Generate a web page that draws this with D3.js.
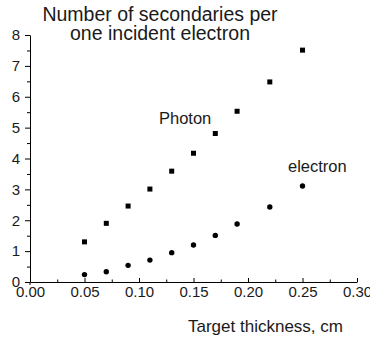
<!DOCTYPE html>
<html>
<head>
<meta charset="utf-8">
<script src="https://cdn.jsdelivr.net/npm/d3@7"></script>
<style>
  body { margin: 0; background: #fff; }
  svg text { font-family: "Liberation Sans", Arial, sans-serif; fill: #1a1a1a; }
</style>
</head>
<body>
<div id="wrapper"></div>
<script>
const thickness = [0.05, 0.07, 0.09, 0.11, 0.13, 0.15, 0.17, 0.19, 0.22, 0.25]
const photonCount = [1.30, 1.90, 2.46, 3.01, 3.59, 4.17, 4.81, 5.53, 6.48, 7.51]
const electronCount = [0.24, 0.33, 0.54, 0.71, 0.95, 1.20, 1.51, 1.88, 2.43, 3.11]
const xTicks = [0, 0.05, 0.10, 0.15, 0.20, 0.25, 0.30]
const yTicks = [0, 1, 2, 3, 4, 5, 6, 7, 8]
const titleLines = ["Number of secondaries per", "one incident electron"]

function drawScatter(){
    const dataset = thickness.map((t, i) => ({
        t: t,
        photon: photonCount[i],
        electron: electronCount[i],
    }))

    const xAccessor = d => d.t

    let dimensions = {
        width: 370,
        height: 339,
        margin: {
            top: 35,
            right: 13,
            bottom: 57,
            left: 30,
        },
    }
    dimensions.boundedWidth = dimensions.width - dimensions.margin.left - dimensions.margin.right
    dimensions.boundedHeight = dimensions.height - dimensions.margin.top - dimensions.margin.bottom

    const wrapper = d3.select("#wrapper")
        .append("svg")
        .attr("width", dimensions.width)
        .attr("height", dimensions.height)

    const bounds = wrapper.append("g")
        .attr("transform", `translate(${dimensions.margin.left},${dimensions.margin.top})`)

    const xScale = d3.scaleLinear()
        .domain([0, 0.30])
        .range([0, dimensions.boundedWidth])

    const yScale = d3.scaleLinear()
        .domain([0, 8])
        .range([dimensions.boundedHeight, 0])

    // x axis: ticks point up into the plot
    const xAxis = bounds.append("g")
        .attr("transform", `translate(0,${dimensions.boundedHeight})`)
        .call(d3.axisBottom(xScale)
            .tickValues(xTicks)
            .tickFormat(d3.format(".2f"))
            .tickSizeInner(-4)
            .tickSizeOuter(0)
            .tickPadding(4))
    xAxis.selectAll("text").style("font-size", "15px").attr("fill", "#1a1a1a")

    bounds.append("g")
        .attr("transform", `translate(0,${dimensions.boundedHeight})`)
        .call(d3.axisBottom(xScale)
            .tickValues(d3.range(0.025, 0.3, 0.05))
            .tickFormat("")
            .tickSizeInner(-2.5)
            .tickSizeOuter(0))
        .select(".domain").remove()

    // y axis: ticks point outward
    const yAxis = bounds.append("g")
        .call(d3.axisLeft(yScale)
            .tickValues(yTicks)
            .tickSizeInner(5)
            .tickSizeOuter(0)
            .tickPadding(5))
    yAxis.selectAll("text").style("font-size", "15px").attr("fill", "#1a1a1a")

    bounds.append("g")
        .call(d3.axisLeft(yScale)
            .tickValues(d3.range(0.5, 8, 1))
            .tickFormat("")
            .tickSizeInner(3)
            .tickSizeOuter(0))
        .select(".domain").remove()

    bounds.append("line")
        .attr("x1", 0).attr("x2", 0)
        .attr("y1", dimensions.boundedHeight)
        .attr("y2", dimensions.boundedHeight + 3)
        .attr("stroke", "#000")

    // Photon: squares
    const sq = 5
    bounds.append("g")
        .selectAll("rect")
        .data(dataset)
        .join("rect")
        .attr("x", d => xScale(xAccessor(d)) - sq / 2)
        .attr("y", d => yScale(d.photon) - sq / 2)
        .attr("width", sq)
        .attr("height", sq)
        .attr("fill", "#000")

    // electron: circles
    bounds.append("g")
        .selectAll("circle")
        .data(dataset)
        .join("circle")
        .attr("cx", d => xScale(xAccessor(d)))
        .attr("cy", d => yScale(d.electron))
        .attr("r", 2.7)
        .attr("fill", "#000")

    // labels
    wrapper.append("g")
        .selectAll("text")
        .data(titleLines)
        .join("text")
        .attr("x", 160)
        .attr("y", (d, i) => 20.5 + i * 19.7)
        .attr("text-anchor", "middle")
        .style("font-size", "19.5px")
        .text(d => d)

    wrapper.append("text")
        .attr("x", 159)
        .attr("y", 123.5)
        .style("font-size", "16.5px")
        .text("Photon")

    wrapper.append("text")
        .attr("x", 288)
        .attr("y", 171.5)
        .style("font-size", "16.5px")
        .text("electron")

    wrapper.append("text")
        .attr("x", 188)
        .attr("y", 331.5)
        .style("font-size", "17px")
        .text("Target thickness, cm")
}

drawScatter()
</script>
</body>
</html>
